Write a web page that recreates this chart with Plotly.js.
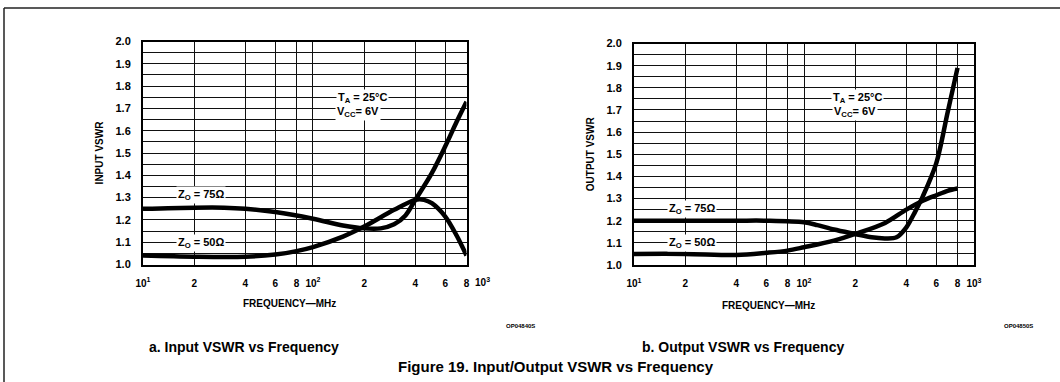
<!DOCTYPE html>
<html><head><meta charset="utf-8">
<script src="https://cdn.plot.ly/plotly-3.0.1.min.js"></script>
<style>html,body{margin:0;padding:0;background:#fff}#chart{width:1060px;height:382px}</style>
</head><body><div id="chart"></div>
<script>
// ---- data ----
const freqIn75  = [10,20,30,40,60,100,150,200,250,300,350,400,500,600,700,800];
const vswrIn75  = [1.25,1.255,1.255,1.25,1.235,1.205,1.175,1.162,1.162,1.18,1.22,1.29,1.41,1.53,1.64,1.73];
const freqIn50  = [10,20,40,60,80,100,150,200,300,400,450,500,600,700,800];
const vswrIn50  = [1.04,1.035,1.035,1.045,1.06,1.078,1.125,1.17,1.245,1.29,1.29,1.275,1.215,1.13,1.04];
const freqOut75 = [10,20,40,60,100,120,150,200,250,300,350,400,450,500,600,700,800];
const vswrOut75 = [1.2,1.2,1.2,1.2,1.193,1.18,1.16,1.14,1.125,1.12,1.125,1.17,1.24,1.31,1.46,1.69,1.89];
const freqOut50 = [10,20,40,60,80,100,150,200,300,400,500,600,700,800];
const vswrOut50 = [1.05,1.05,1.045,1.055,1.065,1.08,1.11,1.14,1.19,1.25,1.29,1.315,1.335,1.345];

const xTickVals  = [10,20,40,60,80,100,200,400,600,800,1000];
const xTickText  = ['10<sup>1</sup>','2','4','6','8','10<sup>2</sup>','2','4','6','8','10<sup>3</sup>'];
const yTickVals  = [1.0,1.05,1.1,1.15,1.2,1.25,1.3,1.35,1.4,1.45,1.5,1.55,1.6,1.65,1.7,1.75,1.8,1.85,1.9,1.95,2.0];
const yTickText  = ['1.0','','1.1','','1.2','','1.3','','1.4','','1.5','','1.6','','1.7','','1.8','','1.9','','2.0'];

const leftMaxFreq = 800, rightMaxFreq = 1000;

const FONT = '"Liberation Sans Narrow","Liberation Sans",Arial,sans-serif';
const curve = {color:'#000', width:4.5, shape:'spline', smoothing:0.9};

const traces = [
  {x:freqIn75, y:vswrIn75, xaxis:'x', yaxis:'y', mode:'lines', line:curve, name:'Zo=75', hoverinfo:'x+y'},
  {x:freqIn50, y:vswrIn50, xaxis:'x', yaxis:'y', mode:'lines', line:curve, name:'Zo=50', hoverinfo:'x+y'},
  {x:freqOut75, y:vswrOut75, xaxis:'x2', yaxis:'y2', mode:'lines', line:curve, name:'Zo=75', hoverinfo:'x+y'},
  {x:freqOut50, y:vswrOut50, xaxis:'x2', yaxis:'y2', mode:'lines', line:curve, name:'Zo=50', hoverinfo:'x+y'}
];

function xAxis(domain, maxF, anchor){
  return {
    type:'log', domain:domain, anchor:anchor,
    range:[1, Math.log10(maxF)],
    tickvals:xTickVals, ticktext:xTickText,
    showgrid:true, gridcolor:'#111', gridwidth:1,
    showline:true, mirror:true, linecolor:'#000', linewidth:2,
    ticks:'outside', ticklen:8, tickcolor:'rgba(0,0,0,0)',
    tickfont:{family:FONT, size:10, color:'#000', weight:'bold'},
    zeroline:false, fixedrange:true
  };
}
function yAxis(domain, anchor, title){
  return {
    domain:domain, anchor:anchor, range:[1,2],
    tickvals:yTickVals, ticktext:yTickText,
    showgrid:true, gridcolor:'#111', gridwidth:1,
    showline:true, mirror:true, linecolor:'#000', linewidth:2,
    ticks:'outside', ticklen:8, tickcolor:'rgba(0,0,0,0)',
    tickfont:{family:FONT, size:11, color:'#000', weight:'bold'},
    title:{text:title, standoff:10, font:{family:FONT, size:10, color:'#000', weight:'bold'}},
    zeroline:false, fixedrange:true
  };
}

const W = 1060, H = 382;
const px = v => v / W, py = v => 1 - v / H;

const annFont = {family:FONT, size:11, color:'#000', weight:'bold'};
const lab = (xa, ya, f, v, t) => ({xref:xa, yref:ya, x:Math.log10(f), y:v, text:t, showarrow:false,
  xanchor:'center', yanchor:'middle', bgcolor:'#fff', font:annFont, borderpad:1});
const txt = (x, y, t, size, xanchor) => ({xref:'paper', yref:'paper', x:px(x), y:py(y), text:t, showarrow:false,
  xanchor:xanchor || 'center', yanchor:'middle', font:{family:FONT, size:size, color:'#000', weight:'bold'}});

const annotations = [
  // left chart labels
  lab('x','y', 22, 1.31, 'Z<sub>O</sub> = 75Ω'),
  lab('x','y', 22, 1.095, 'Z<sub>O</sub> = 50Ω'),
  lab('x','y', 195, 1.748, 'T<sub>A</sub> = 25°C'),
  lab('x','y', 185, 1.685, 'V<sub>CC</sub>= 6V'),
  // right chart labels
  lab('x2','y2', 22, 1.255, 'Z<sub>O</sub> = 75Ω'),
  lab('x2','y2', 22, 1.1, 'Z<sub>O</sub> = 50Ω'),
  lab('x2','y2', 205, 1.755, 'T<sub>A</sub> = 25°C'),
  lab('x2','y2', 200, 1.69, 'V<sub>CC</sub>= 6V'),
  // 10^3 label beyond the left frame (the left grid stops at 800 MHz)
  {xref:'x domain', yref:'y domain', x:(3-1)/(Math.log10(leftMaxFreq)-1), y:0, xanchor:'center', yanchor:'top', yshift:-9,
   text:'10<sup>3</sup>', showarrow:false, font:{family:FONT, size:10, color:'#000', weight:'bold'}},
  // x titles
  txt(289, 303, 'FREQUENCY—MHz', 10),
  txt(768, 305, 'FREQUENCY—MHz', 10),
  // codes
  txt(520, 326, 'OP04840S', 6),
  txt(1018, 326, 'OP04850S', 6),
  // captions
  txt(147, 347, 'a. Input VSWR vs Frequency', 14, 'left'),
  txt(640, 347, 'b. Output VSWR vs Frequency', 14, 'left'),
  txt(556, 366, 'Figure 19. Input/Output VSWR vs Frequency', 15)
];

const shapes = [
  {type:'line', xref:'paper', yref:'paper', x0:px(4), x1:1, y0:py(8), y1:py(8), line:{color:'#222', width:1.5}},
  {type:'line', xref:'paper', yref:'paper', x0:px(4), x1:px(4), y0:0, y1:py(8), line:{color:'#222', width:1.5}}
];

const layout = {
  width:W, height:H, margin:{l:0,r:0,t:0,b:0},
  paper_bgcolor:'#fff', plot_bgcolor:'#fff', showlegend:false,
  xaxis: xAxis([px(143), px(466.5)], leftMaxFreq, 'y'),
  yaxis: yAxis([py(264.5), py(41.5)], 'x', 'INPUT VSWR'),
  xaxis2: xAxis([px(634), px(974)], rightMaxFreq, 'y2'),
  yaxis2: yAxis([py(265), py(43.5)], 'x2', 'OUTPUT VSWR'),
  annotations, shapes
};

Plotly.newPlot('chart', traces, layout, {staticPlot:true, displayModeBar:false});
</script></body></html>
